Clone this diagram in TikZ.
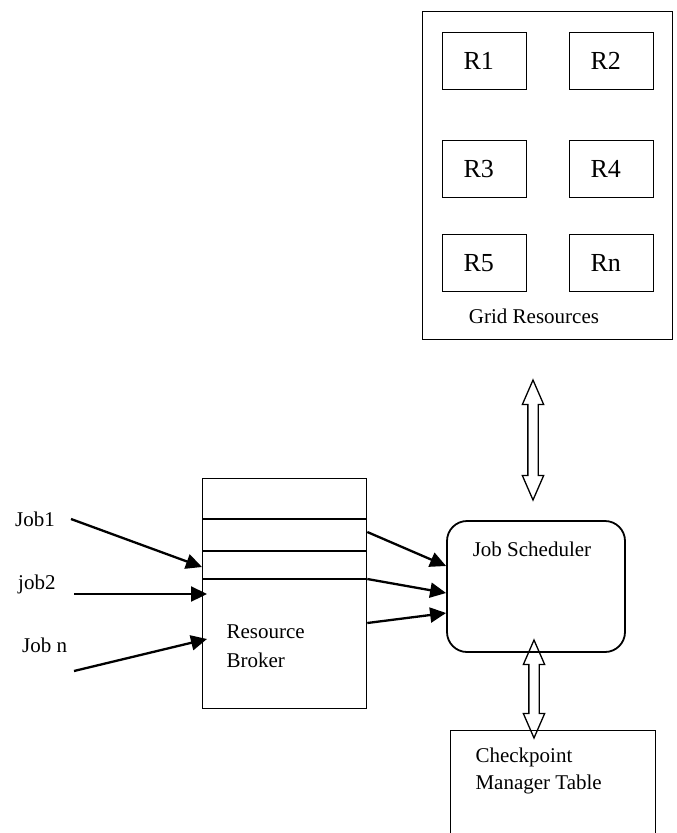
\documentclass[tikz,border=0pt]{standalone}
\usepackage{fontspec}
\setmainfont{Liberation Serif}
\usetikzlibrary{arrows.meta,positioning,shapes.arrows}

\tikzset{
	box/.style={draw, line width=1.3pt},
	rbox/.style={box, anchor=north west, minimum height=57, inner xsep=21, text width=42, align=left, font=\fontsize{26}{30}\selectfont},
	dblarrow/.style={box, shape=double arrow, rotate=90, inner sep=4.5, double arrow head extend=5.5, double arrow tip angle=47},
	jobarrow/.style={line width=2.3pt, -{Triangle[length=16pt,width=15pt]}}
}

\begin{document}
	\begin{tikzpicture}[x=1pt, y=-1pt, font=\fontsize{21}{26}\selectfont]
		\path[use as bounding box, clip] (0,0) rectangle (677,833);
		% grid resources
		\node[box, anchor=north west, minimum width=250, minimum height=328] (grid) at (422,11) {};
		\node[rbox] (r1) at (442,32) {R1};
		\node[rbox] (r2) at (569,32) {R2};
		\node[rbox] (r3) at (442,140) {R3};
		\node[rbox] (r4) at (569,140) {R4};
		\node[rbox] (r5) at (442,234) {R5};
		\node[rbox] (rn) at (569,234) {Rn};
		\node[anchor=base] (gridlbl) at (534,323) {Grid Resources};
		
		% scheduler and checkpoint table
		\node[draw, line width=1.8pt, rounded corners=20pt, minimum width=178, minimum height=131] (sched) at (536,586.5) {};
		\node[anchor=base] (schedlbl) at (532,556) {Job Scheduler};
		\node[box, anchor=north west, minimum width=205, minimum height=140] (ckpt) at (450,730) {};
		\node[anchor=base west, align=left, font=\fontsize{21}{27}\selectfont] (ckptlbl) at (472,789) {Checkpoint\\Manager Table};
		
		\node[dblarrow, minimum height=120] (up) at (533,440) {};
		\node[dblarrow, minimum height=98] (down) at (534,689) {};
		
		% broker
		\node[box, anchor=north west, minimum width=164, minimum height=230.5] (broker) at (202,477.5) {};
		\draw[line width=1.3pt] (broker.west |- 0,519) -- (broker.east |- 0,519);
		\draw[line width=1.3pt] (broker.west |- 0,551) -- (broker.east |- 0,551);
		\draw[line width=1.3pt] (broker.west |- 0,579) -- (broker.east |- 0,579);
		\node[anchor=base west, align=left, font=\fontsize{21}{29}\selectfont] (brokerlbl) at (223,667) {Resource\\Broker};
		
		% jobs
		\node[anchor=base west, inner sep=0] (job1) at (15,526) {Job1};
		\node[anchor=base west, inner sep=0] (job2) at (18,589) {job2};
		\node[anchor=base west, inner sep=0] (jobn) at (22,652) {Job n};
		\coordinate (j1) at (71,519);
		\coordinate (j2) at (74,594);
		\coordinate (jn) at (74,671);
		\coordinate (j2end) at (207,594);
		\coordinate (jnend) at (207,639);
		\draw[jobarrow] (j1) -- (broker.west |- 0,567);
		\draw[jobarrow] (j2) -- (j2end);
		\draw[jobarrow] (jn) -- (jnend);
		
		\draw[jobarrow] (broker.east |- 0,532) -- (sched.west |- 0,566);
		\draw[jobarrow] (broker.east |- 0,579) -- (sched.west |- 0,593);
		\draw[jobarrow] (broker.east |- 0,623) -- (sched.west |- 0,613);
	\end{tikzpicture}
\end{document}
